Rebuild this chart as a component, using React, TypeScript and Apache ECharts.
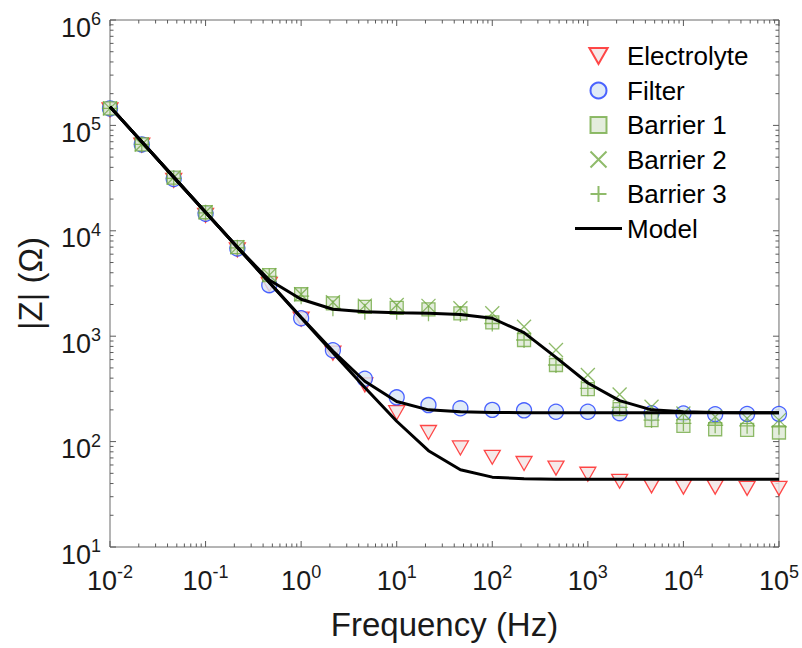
import React, { useEffect, useRef } from "react";
import * as echarts from "echarts";

// Frequencies (Hz)
const freq = [0.01, 0.0215, 0.0464, 0.1, 0.215, 0.464, 1, 2.15, 4.64, 10, 21.5, 46.4, 100, 215, 464, 1000, 2150, 4640, 10000, 21500, 46400, 100000];

// Measured |Z| (Ohm)
const electrolyte = [140000, 65000, 30000, 14000, 6600, 3100, 1450, 690, 345, 188, 122, 87, 71, 62, 56, 49, 42, 38, 37, 37, 36, 36];
const filter = [145000, 66000, 31000, 14500, 6800, 3050, 1480, 735, 395, 263, 222, 207, 200, 198, 192, 192, 186, 186, 185, 182, 183, 183];
const barrier1 = [145000, 66000, 32000, 15000, 7000, 3800, 2500, 2050, 1900, 1860, 1800, 1650, 1350, 920, 533, 315, 203, 160, 141, 131, 129, 122];
const barrier2 = [145000, 66000, 32000, 15000, 7000, 3800, 2500, 2100, 1950, 1980, 1940, 1840, 1650, 1230, 740, 428, 280, 214, 185, 172, 166, 160];
const barrier3 = [145000, 66000, 31500, 14800, 6900, 3700, 2400, 1840, 1710, 1710, 1650, 1620, 1320, 920, 533, 320, 211, 160, 149, 143, 141, 138];

// Model |Z| (Ohm)
const modelElectrolyte = [150000, 69800, 32300, 15000, 6980, 3230, 1500, 698, 326, 156, 82, 54, 46, 44.5, 44, 44, 44, 44, 44, 44, 44, 44];
const modelFilter = [150000, 69800, 32300, 15000, 6980, 3250, 1510, 723, 374, 240, 200, 192, 189, 188, 188, 188, 188, 188, 188, 188, 188, 188];
const modelBarrier = [150000, 69800, 32300, 15000, 7000, 3410, 2240, 1800, 1710, 1670, 1650, 1610, 1480, 1080, 630, 360, 245, 200, 192, 189, 188, 188];

// Axis tick exponents (labels are 10^n)
const xExponents = [-2, -1, 0, 1, 2, 3, 4, 5];
const yExponents = [1, 2, 3, 4, 5, 6];

const X_MIN = 0.01, X_MAX = 100000, Y_MIN = 10, Y_MAX = 1000000;
const FONT = "Liberation Sans, Arial, Helvetica, sans-serif";
const TXT = "#1a1a1a";
const TICK = "#5a5a5a";
const RED = "#ff1a1a", RED_FILL = "#f2e4e4";
const BLUE = "#1f3dff", BLUE_FILL = "#d8e6f5";
const GREEN = "#73aa45", GREEN_FILL = "#dde8d4";

function tickList(exps: number[], major: number, minor: number) {
  const out: number[][] = [];
  for (let i = 0; i < exps.length; i++) {
    const base = Math.pow(10, exps[i]);
    out.push([base, major]);
    if (i < exps.length - 1) {
      for (let m = 2; m <= 9; m++) out.push([m * base, minor]);
    }
  }
  return out;
}

const pair = (ys: number[]) => freq.map((f, i) => [f, ys[i]]);

const supLabel = (v: number) => {
  const e = Math.round(Math.log10(v));
  return "{b|10}{s|" + e + "}";
};

export default function App() {
  const ref = useRef<HTMLDivElement>(null);
  useEffect(() => {
    if (!ref.current) return;
    const chart = echarts.init(ref.current, undefined, { renderer: "svg" });
    const xt = tickList(xExponents, 6, 3.5);
    const yt = tickList(yExponents, 6, 3.5);
    const rich = {
      b: { fontSize: 27, fontFamily: FONT, color: TXT, verticalAlign: "bottom" },
      s: { fontSize: 18, fontFamily: FONT, color: TXT, verticalAlign: "bottom", padding: [0, 0, 13, 0] },
    };
    const lineSeries = (data: number[]) => ({
      name: "Model",
      type: "line",
      data: pair(data),
      symbol: "none",
      showSymbol: false,
      lineStyle: { color: "#000", width: 3 },
      itemStyle: { color: "#000" },
      z: 6,
      silent: true,
    });
    const option: any = {
      animation: false,
      grid: { left: 110, top: 20, right: 23, bottom: 101, show: true, borderColor: "#6a6a6a", borderWidth: 1, backgroundColor: "transparent" },
      legend: {
        data: [
          "Electrolyte",
          "Filter",
          "Barrier 1",
          "Barrier 2",
          "Barrier 3",
          { name: "Model", icon: "path://M0,0L47,0L47,3L0,3Z" },
        ],
        orient: "vertical",
        left: 575,
        top: 43,
        padding: 0,
        itemWidth: 47,
        itemHeight: 16,
        itemGap: 8.5,
        selectedMode: false,
        symbolKeepAspect: true,
        textStyle: { fontSize: 26, fontFamily: FONT, color: "#000", lineHeight: 26 },
      },
      xAxis: {
        type: "log",
        logBase: 10,
        min: X_MIN,
        max: X_MAX,
        name: "Frequency (Hz)",
        nameLocation: "middle",
        nameGap: 61,
        nameTextStyle: { fontSize: 33, fontFamily: FONT, color: TXT },
        axisLine: { show: false },
        axisTick: { show: false },
        splitLine: { show: false },
        axisLabel: { margin: 16, formatter: supLabel, rich },
      },
      yAxis: {
        type: "log",
        logBase: 10,
        min: Y_MIN,
        max: Y_MAX,
        name: "|Z| (Ω)",
        nameLocation: "middle",
        nameGap: 63,
        nameTextStyle: { fontSize: 33, fontFamily: FONT, color: TXT },
        axisLine: { show: false },
        axisTick: { show: false },
        splitLine: { show: false },
        axisLabel: { margin: 9, formatter: supLabel, rich, padding: [11, 0, 0, 0] },
      },
      series: [
        {
          name: "xticks",
          type: "custom",
          silent: true,
          z: 1,
          data: xt.map((t) => [t[0], Y_MIN, t[1]]),
          encode: { x: 0, y: 1 },
          renderItem: (params: any, api: any) => {
            const v = api.value(0);
            const len = api.value(2);
            const b = api.coord([v, Y_MIN]);
            const t = api.coord([v, Y_MAX]);
            return {
              type: "group",
              children: [
                { type: "line", shape: { x1: b[0], y1: b[1], x2: b[0], y2: b[1] - len }, style: { stroke: TICK, lineWidth: 1 } },
                { type: "line", shape: { x1: t[0], y1: t[1], x2: t[0], y2: t[1] + len }, style: { stroke: TICK, lineWidth: 1 } },
              ],
            };
          },
        },
        {
          name: "yticks",
          type: "custom",
          silent: true,
          z: 1,
          data: yt.map((t) => [X_MIN, t[0], t[1]]),
          encode: { x: 0, y: 1 },
          renderItem: (params: any, api: any) => {
            const v = api.value(1);
            const len = api.value(2);
            const l = api.coord([X_MIN, v]);
            const r = api.coord([X_MAX, v]);
            return {
              type: "group",
              children: [
                { type: "line", shape: { x1: l[0], y1: l[1], x2: l[0] + len, y2: l[1] }, style: { stroke: TICK, lineWidth: 1 } },
                { type: "line", shape: { x1: r[0], y1: r[1], x2: r[0] - len, y2: r[1] }, style: { stroke: TICK, lineWidth: 1 } },
              ],
            };
          },
        },
        {
          name: "Electrolyte",
          type: "scatter",
          data: pair(electrolyte),
          symbol: "path://M0,0L16,0L8,14Z",
          symbolKeepAspect: true,
          symbolSize: 16,
          itemStyle: { color: RED_FILL, borderColor: RED, borderWidth: 1.3 },
          z: 2,
        },
        {
          name: "Filter",
          type: "scatter",
          data: pair(filter),
          symbol: "circle",
          symbolSize: 15,
          itemStyle: { color: BLUE_FILL, borderColor: BLUE, borderWidth: 1.3 },
          z: 3,
        },
        {
          name: "Barrier 1",
          type: "scatter",
          data: pair(barrier1),
          symbol: "path://M0,0L10,0L10,10L0,10Z",
          symbolKeepAspect: true,
          symbolSize: 13,
          itemStyle: { color: GREEN_FILL, borderColor: GREEN, borderWidth: 1.3 },
          z: 4,
        },
        {
          name: "Barrier 2",
          type: "scatter",
          data: pair(barrier2),
          symbol: "path://M0,0L10,10M10,0L0,10",
          symbolKeepAspect: true,
          symbolSize: 14,
          itemStyle: { color: "none", borderColor: GREEN, borderWidth: 1.3 },
          z: 4,
        },
        {
          name: "Barrier 3",
          type: "scatter",
          data: pair(barrier3),
          symbol: "path://M5,0L5,10M0,5L10,5",
          symbolKeepAspect: true,
          symbolSize: 16,
          itemStyle: { color: "none", borderColor: GREEN, borderWidth: 1.3 },
          z: 4,
        },
        lineSeries(modelElectrolyte),
        lineSeries(modelFilter),
        lineSeries(modelBarrier),
      ],
    };
    chart.setOption(option);
    return () => chart.dispose();
  }, []);
  return (
    <div
      ref={ref}
      style={{ position: "fixed", left: 0, top: 0, width: 802, height: 648, background: "#fff" }}
    />
  );
}
